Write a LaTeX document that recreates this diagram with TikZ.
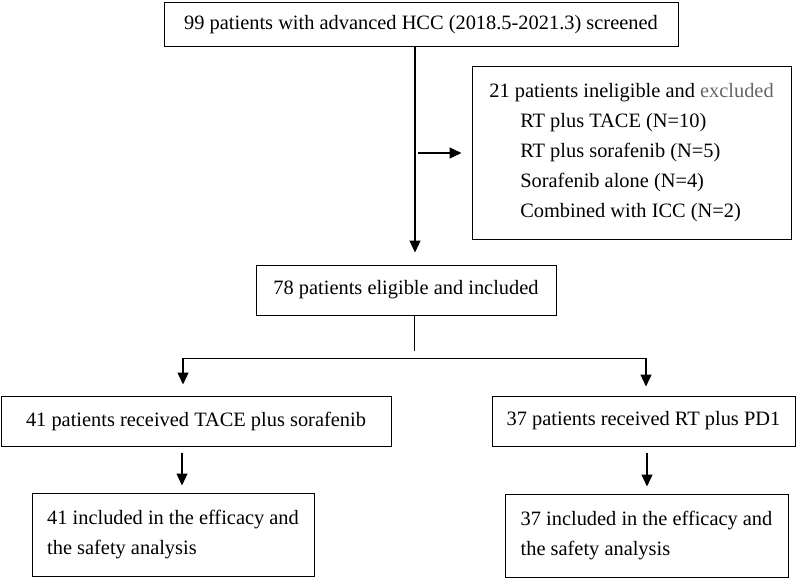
\documentclass[tikz,border=0pt]{standalone}
\usepackage{fontspec}
\setmainfont{Liberation Serif}
\usetikzlibrary{arrows.meta,positioning}
\tikzset{
  box/.style={draw, line width=1pt, inner sep=0pt, font=\fontsize{20.4}{30}\selectfont},
  arr/.style={-{Triangle[width=11pt,length=12pt]}, line width=1.3pt},
  link/.style={line width=1pt}
}
\begin{document}
\begin{tikzpicture}[x=1pt,y=-1pt]
\useasboundingbox (0,0) rectangle (800,578);
% screening and exclusion
  \node[box, minimum width=514, minimum height=44] (screen) at (421,25) {99 patients with advanced HCC (2018.5-2021.3) screened};
  \node[box, minimum width=319, minimum height=172, align=left] (excl) at (631.5,153)
    {21 patients ineligible and {\color{black!60}excluded}\\
     \hspace*{31pt}RT plus TACE (N=10)\\
     \hspace*{31pt}RT plus sorafenib (N=5)\\
     \hspace*{31pt}Sorafenib alone (N=4)\\
     \hspace*{31pt}Combined with ICC (N=2)};
  \node[box, minimum width=300, minimum height=50] (incl) at (406,290) {78 patients eligible and included};

% the two arms
  \node[box, minimum width=390, minimum height=50] (tace) at (196,421) {41 patients received TACE plus sorafenib};
  \node[box, minimum width=303, minimum height=50] (rtpd) at (643.5,421) {37 patients received RT plus PD1};
  \node[box, minimum width=282, minimum height=83, align=left] (tacefa) at (173,534.5) {41 included in the efficacy and\\the safety analysis};
  \node[box, minimum width=283, minimum height=83, align=left] (rtpdfa) at (646.5,535.5) {37 included in the efficacy and\\the safety analysis};

% connectors
  \coordinate (trunk) at (415,0);
  \draw[arr, shorten >=12pt] (screen.south -| trunk) -- (incl.north -| trunk);
  \draw[arr, shorten <=3pt, shorten >=10pt] (trunk |- excl.west) -- (excl.west);
  \coordinate (split) at (414,351);
  \draw[link] (incl.south -| split) -- (split);
  \coordinate (lbranch) at (183,358); \coordinate (rbranch) at (646,358);
  \draw[link] (lbranch) -- (rbranch);
  \draw[arr, shorten >=11pt] (lbranch) -- (tace.north -| lbranch);
  \draw[arr, shorten >=9pt] (rbranch) -- (rtpd.north -| rbranch);
  \coordinate (lfa) at (182,0); \coordinate (rfa) at (647,0);
  \draw[arr, shorten <=6pt, shorten >=7pt] (tace.south -| lfa) -- (tacefa.north -| lfa);
  \draw[arr, shorten <=6pt, shorten >=7pt] (rtpd.south -| rfa) -- (rtpdfa.north -| rfa);
\end{tikzpicture}
\end{document}
